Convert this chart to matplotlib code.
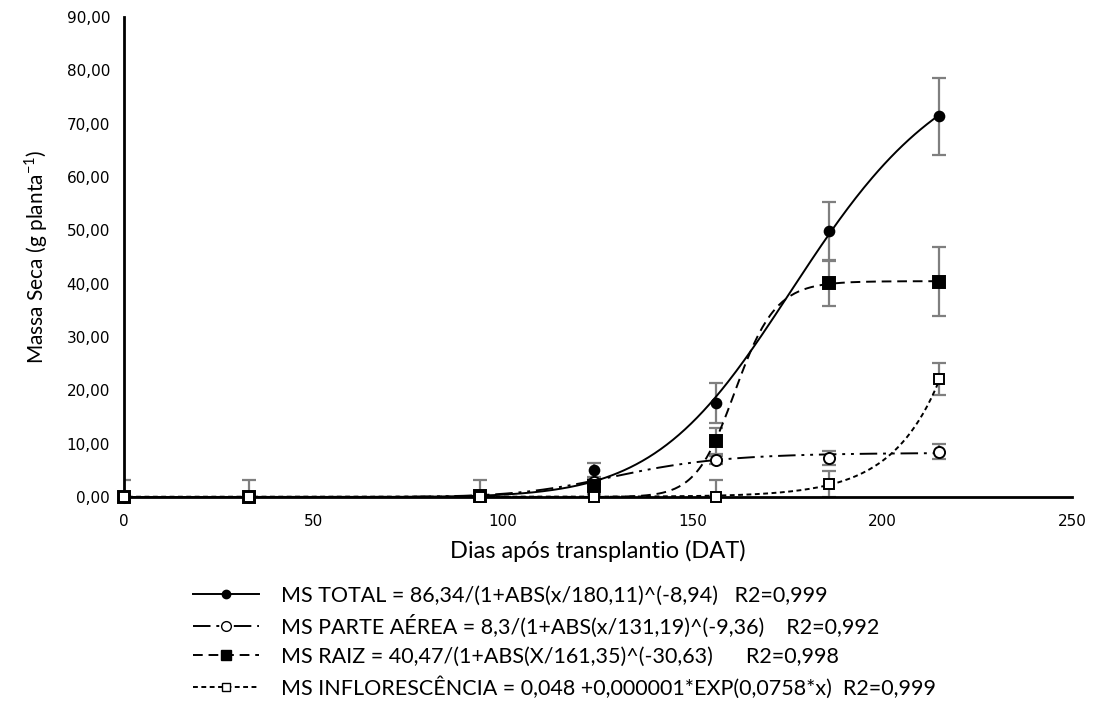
import numpy as np
import matplotlib
matplotlib.use("Agg")
import matplotlib.pyplot as plt
from matplotlib.lines import Line2D

# dias apos transplantio
dias = [0, 33, 94, 124, 156, 186, 215]

# massa seca (g planta-1)
ms_total = [0.0, 0.0, 0.2, 5.1, 17.6, 49.8, 71.4]
ms_total_err = [0.0, 0.0, 0.0, 1.3, 3.8, 5.5, 7.2]
ms_parte_aerea = [0.0, 0.0, 0.2, 2.8, 6.9, 7.3, 8.5]
ms_parte_aerea_err = [0.0, 0.0, 0.0, 0.5, 0.8, 1.3, 1.4]
ms_raiz = [0.0, 0.0, 0.1, 2.0, 10.5, 40.1, 40.4]
ms_raiz_err = [0.0, 0.0, 0.0, 1.5, 2.4, 4.3, 6.5]
ms_inflor = [0.0, 0.0, 0.0, 0.0, 0.0, 2.4, 22.2]
ms_inflor_err = [3.2, 3.2, 3.2, 0.0, 3.2, 2.4, 3.0]

fit_total = [86.34, 180.11, -8.94]
fit_parte_aerea = [8.3, 131.19, -9.36]
fit_raiz = [40.47, 161.35, -30.63]
fit_inflor = [0.048, 0.000001, 0.0786]

labels = [
    "MS TOTAL = 86,34/(1+ABS(x/180,11)^(-8,94)   R2=0,999",
    "MS PARTE AÉREA = 8,3/(1+ABS(x/131,19)^(-9,36)    R2=0,992",
    "MS RAIZ = 40,47/(1+ABS(X/161,35)^(-30,63)      R2=0,998",
    "MS INFLORESCÊNCIA = 0,048 +0,000001*EXP(0,0758*x)  R2=0,999",
]


def logistic(x, p):
    a, c, b = p
    return a / (1 + np.abs(x / c) ** b)


xs = np.linspace(1, 215, 400)
curves = [
    logistic(xs, fit_total),
    logistic(xs, fit_parte_aerea),
    logistic(xs, fit_raiz),
    fit_inflor[0] + fit_inflor[1] * np.exp(fit_inflor[2] * xs),
]

styles = [
    dict(ls="-", marker="o", mfc="black", ms=7),
    dict(ls=(0, (9, 3, 1.5, 3, 1.5, 3)), marker="o", mfc="white", ms=8),
    dict(ls=(0, (5, 3)), marker="s", mfc="black", ms=8),
    dict(ls=(0, (2.5, 1.8)), marker="s", mfc="white", ms=7),
]
series = [
    (ms_total, ms_total_err),
    (ms_parte_aerea, ms_parte_aerea_err),
    (ms_raiz, ms_raiz_err),
    (ms_inflor, ms_inflor_err),
]

fig = plt.figure(figsize=(10.96, 7.10), dpi=100)
ax = fig.add_axes([124 / 1096, 1 - 497 / 710, (1072 - 124) / 1096, (497 - 17) / 710])

for (vals, err), curve, st in zip(series, curves, styles):
    ax.errorbar(dias, vals, yerr=err, fmt="none", ecolor="#7f7f7f",
                elinewidth=1.6, capsize=5, capthick=1.6, zorder=2)
    ax.plot(xs, curve, color="black", lw=1.4, ls=st["ls"], zorder=3)
    ax.plot(dias, vals, ls="none", marker=st["marker"], mfc=st["mfc"],
            mec="black", mew=1.4, ms=st["ms"], zorder=4, clip_on=False)

ax.set_xlim(0, 250)
ax.set_ylim(0, 90)
ax.set_xticks(range(0, 251, 50))
ax.set_yticks(range(0, 91, 10))
ax.set_yticklabels([f"{v:.2f}".replace(".", ",") for v in range(0, 91, 10)])
ax.tick_params(length=0, labelsize=11)
ax.tick_params(axis="y", pad=10)
ax.tick_params(axis="x", pad=12)
for s in ["top", "right"]:
    ax.spines[s].set_visible(False)
for s in ["left", "bottom"]:
    ax.spines[s].set_linewidth(2)

ax.set_xlabel("Dias após transplantio (DAT)", fontsize=17, family="Lato", labelpad=8)
ax.set_ylabel("Massa Seca (g planta$^{\\mathregular{-1}}$)", fontsize=15,
              family="Lato", labelpad=12)

handles = [Line2D([], [], color="black", lw=1.4, ls=st["ls"], marker=st["marker"],
                  mfc=st["mfc"], mec="black", ms=st["ms"] - 1) for st in styles]
leg = ax.legend(handles, labels, loc="upper left", bbox_to_anchor=(60 / 948, -0.167),
                frameon=False, prop={"family": "Lato", "size": 15.5}, handlelength=3.1,
                labelspacing=0.42, handletextpad=1.0, numpoints=1, borderaxespad=0)

fig.savefig("out.png", dpi=100)
